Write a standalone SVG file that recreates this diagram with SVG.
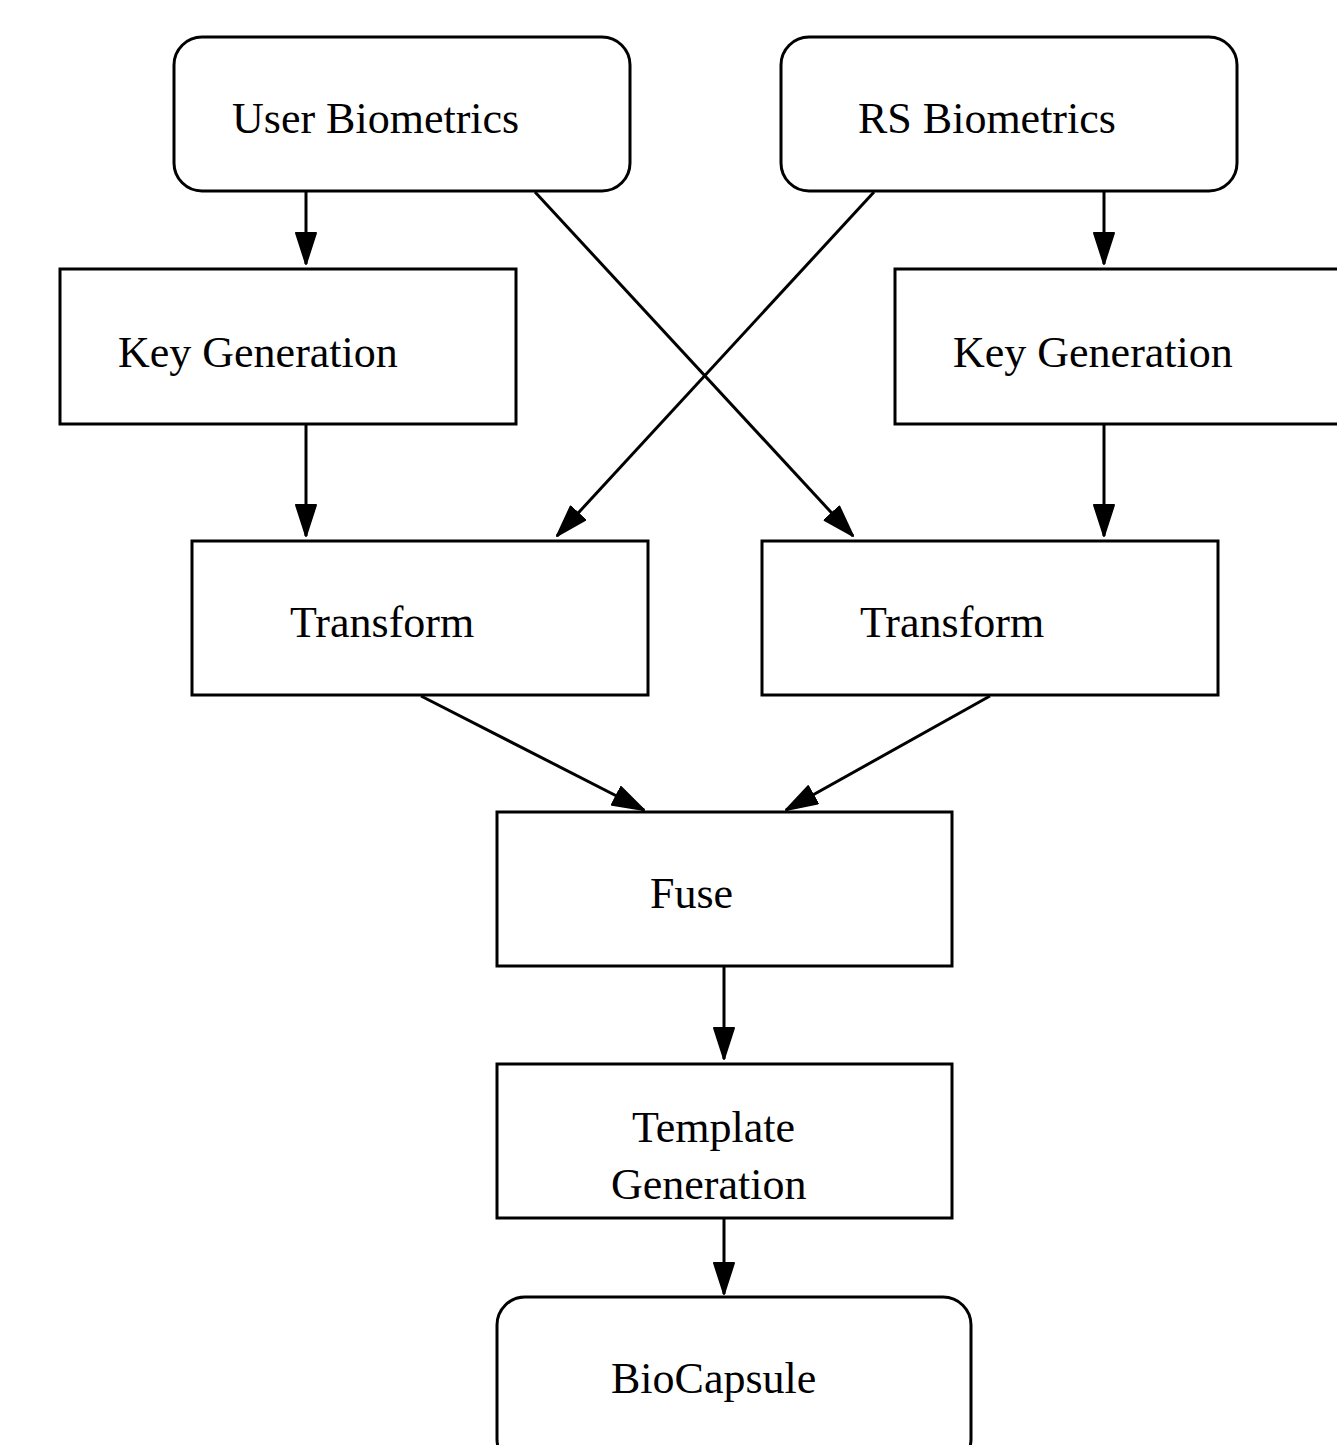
<svg xmlns="http://www.w3.org/2000/svg" width="1337" height="1445" viewBox="0 0 1337 1445">
<defs>
<style>
.box{fill:#fff;stroke:#000;stroke-width:3}
.lbl{font-family:"Liberation Serif","Times New Roman",serif;font-size:44px;fill:#000}
.edge{stroke:#000;stroke-width:3;fill:none}
</style>
<marker id="ah" markerUnits="userSpaceOnUse" markerWidth="34" markerHeight="24" refX="32" refY="11" orient="auto" viewBox="0 0 34 24">
<path d="M1,1 L32,11 L1,21 Z" fill="#000" stroke="#000" stroke-width="2" stroke-linejoin="round"/>
</marker>
</defs>
<rect width="1337" height="1445" fill="#fff"/>
<g id="connectors">
<line class="edge" x1="306" y1="192" x2="306" y2="264" marker-end="url(#ah)"/>
<line class="edge" x1="1104" y1="192" x2="1104" y2="264" marker-end="url(#ah)"/>
<line class="edge" x1="306" y1="425" x2="306" y2="536" marker-end="url(#ah)"/>
<line class="edge" x1="1104" y1="425" x2="1104" y2="536" marker-end="url(#ah)"/>
<line class="edge" x1="535" y1="192" x2="853" y2="536" marker-end="url(#ah)"/>
<line class="edge" x1="874" y1="192" x2="557" y2="536" marker-end="url(#ah)"/>
<line class="edge" x1="421" y1="696" x2="644" y2="810" marker-end="url(#ah)"/>
<line class="edge" x1="990" y1="696" x2="786" y2="810" marker-end="url(#ah)"/>
<line class="edge" x1="724" y1="967" x2="724" y2="1059" marker-end="url(#ah)"/>
<line class="edge" x1="724" y1="1219" x2="724" y2="1294" marker-end="url(#ah)"/>
</g>
<g id="user-biometrics">
<rect class="box" x="174" y="37" width="456" height="154" rx="28" ry="28"/>
<text class="lbl" x="232" y="133">User Biometrics</text>
</g>
<g id="rs-biometrics">
<rect class="box" x="781" y="37" width="456" height="154" rx="28" ry="28"/>
<text class="lbl" x="858" y="133">RS Biometrics</text>
</g>
<g id="keygen-left">
<rect class="box" x="60" y="269" width="456" height="155"/>
<text class="lbl" x="118" y="367">Key Generation</text>
</g>
<g id="keygen-right">
<rect class="box" x="895" y="269" width="456" height="155"/>
<text class="lbl" x="953" y="367">Key Generation</text>
</g>
<g id="transform-left">
<rect class="box" x="192" y="541" width="456" height="154"/>
<text class="lbl" x="290" y="637">Transform</text>
</g>
<g id="transform-right">
<rect class="box" x="762" y="541" width="456" height="154"/>
<text class="lbl" x="860" y="637">Transform</text>
</g>
<g id="fuse">
<rect class="box" x="497" y="812" width="455" height="154"/>
<text class="lbl" x="650" y="908">Fuse</text>
</g>
<g id="template-generation">
<rect class="box" x="497" y="1064" width="455" height="154"/>
<text class="lbl" x="632" y="1142">Template</text>
<text class="lbl" x="611" y="1199">Generation</text>
</g>
<g id="biocapsule">
<rect class="box" x="497" y="1297" width="474" height="170" rx="28" ry="28"/>
<text class="lbl" x="611" y="1393">BioCapsule</text>
</g>
</svg>
